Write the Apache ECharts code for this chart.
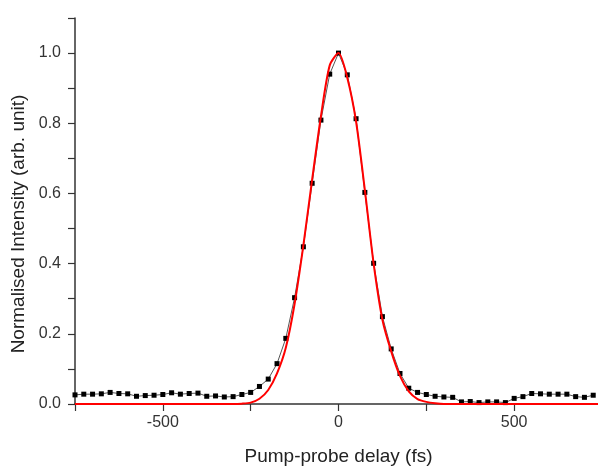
<!DOCTYPE html>
<html>
<head>
<meta charset="utf-8">
<script src="https://cdn.jsdelivr.net/npm/echarts@6/dist/echarts.min.js"></script>
<style>
html,body{margin:0;padding:0;background:#fff;}
#chart{width:598px;height:466px;}
</style>
</head>
<body>
<div id="chart"></div>
<script>
// Measured data (black squares)
const delays = [-750,-725,-700,-675,-650,-625,-600,-575,-550,-525,-500,-475,-450,-425,-400,-375,-350,-325,-300,-275,-250,-225,-200,-175,-150,-125,-100,-75,-50,-25,0,25,50,75,100,125,150,175,200,225,250,275,300,325,350,375,400,425,450,475,500,525,550,575,600,625,650,675,700,725];
const intensity = [0.026,0.028,0.028,0.029,0.033,0.030,0.029,0.022,0.024,0.025,0.027,0.032,0.028,0.030,0.031,0.022,0.023,0.020,0.021,0.027,0.033,0.050,0.071,0.115,0.187,0.303,0.448,0.629,0.809,0.940,1.000,0.938,0.813,0.603,0.401,0.249,0.157,0.087,0.045,0.033,0.027,0.022,0.020,0.019,0.006,0.007,0.004,0.006,0.006,0.004,0.016,0.021,0.030,0.029,0.028,0.028,0.028,0.021,0.019,0.025];
// Fit curve (red)
const fitDelays = [-750,-300,-275,-250,-225,-200,-175,-150,-125,-100,-75,-50,-25,0,25,50,75,100,125,150,175,200,225,250,275,300,750];
const fitValues = [0,0,0.001,0.004,0.015,0.040,0.087,0.160,0.285,0.452,0.640,0.820,0.965,1.000,0.930,0.805,0.610,0.400,0.240,0.150,0.080,0.036,0.014,0.006,0.002,0,0];
const xLabels = [-500, 0, 500];
const yLabels = [0, 0.2, 0.4, 0.6, 0.8, 1.0];

const measured = delays.map((d, i) => [d, intensity[i]]);
const fit = fitDelays.map((d, i) => [d, fitValues[i]]);

const chart = echarts.init(document.getElementById('chart'), null, {renderer: 'canvas'});
const font = 'Liberation Sans, Arial, sans-serif';
chart.setOption({
  animation: false,
  backgroundColor: '#ffffff',
  grid: {left: 75, top: 18, width: 527, height: 386, containLabel: false, outerBoundsMode: 'none'},
  xAxis: {
    type: 'value', min: -750, max: 750, interval: 250,
    name: 'Pump-probe delay (fs)', nameLocation: 'middle', nameGap: 43,
    nameTextStyle: {fontFamily: font, fontSize: 19, color: '#222'},
    axisLine: {show: true, onZero: false, lineStyle: {color: '#333', width: 1.5}},
    axisTick: {show: true, length: 7, lineStyle: {color: '#333', width: 1.2}},
    axisLabel: {
      fontFamily: font, fontSize: 16, color: '#333', margin: 11,
      formatter: v => xLabels.indexOf(Math.round(v)) >= 0 ? String(Math.round(v)) : ''
    },
    splitLine: {show: false}
  },
  yAxis: {
    type: 'value', min: 0, max: 1.1, interval: 0.1,
    name: 'Normalised Intensity (arb. unit)', nameLocation: 'middle', nameGap: 45,
    nameTextStyle: {fontFamily: font, fontSize: 19, color: '#222', padding: [0, 26, 0, 0]},
    axisLine: {show: true, onZero: false, lineStyle: {color: '#333', width: 1.5}},
    axisTick: {show: true, length: 7, lineStyle: {color: '#333', width: 1.2}},
    axisLabel: {
      fontFamily: font, fontSize: 16, color: '#333', margin: 14,
      formatter: v => {
        const r = Math.round(v * 10) / 10;
        return yLabels.some(l => Math.abs(l - r) < 1e-6) ? r.toFixed(1) : '';
      }
    },
    splitLine: {show: false}
  },
  series: [
    {
      type: 'line', data: measured, symbol: 'rect', symbolSize: 5, showAllSymbol: true,
      lineStyle: {color: '#555', width: 1},
      itemStyle: {color: '#000'},
      z: 2
    },
    {
      type: 'line', data: fit, symbol: 'none', smooth: 0.25,
      lineStyle: {color: '#ff0000', width: 2},
      z: 3
    }
  ]
});
</script>
</body>
</html>
